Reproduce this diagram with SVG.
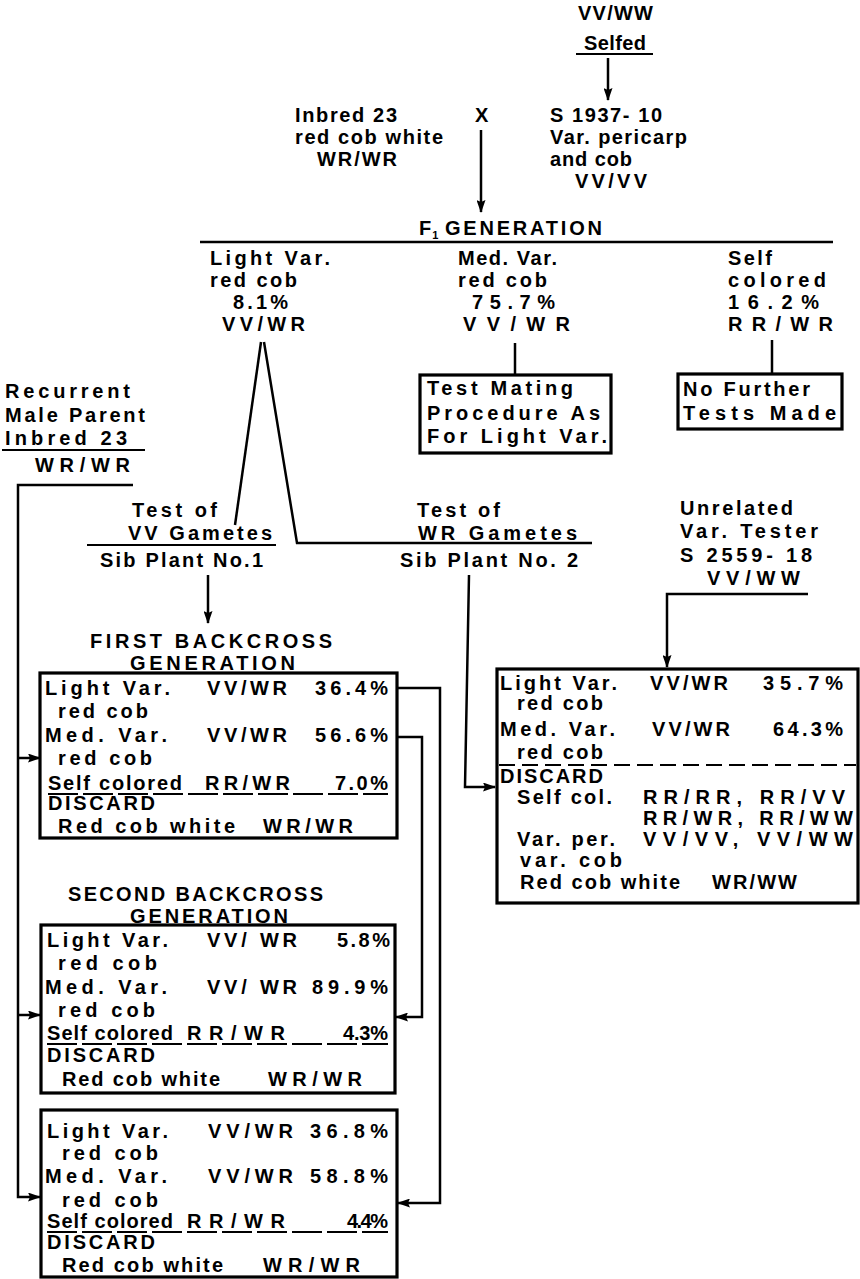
<svg xmlns="http://www.w3.org/2000/svg" width="860" height="1279" viewBox="0 0 860 1279">
<style>
text{font-family:"Liberation Sans",Arial,sans-serif;font-weight:bold;font-size:20px;fill:#000}
.sub{font-size:11px}
.ln{fill:none;stroke:#000;stroke-width:2.5}
.bx{fill:none;stroke:#000;stroke-width:3.2}
.ul{fill:none;stroke:#000;stroke-width:2}
.dash{fill:none;stroke:#000;stroke-width:2;stroke-dasharray:30 5}
.dash2{fill:none;stroke:#000;stroke-width:2;stroke-dasharray:16 7}
</style>
<defs>
<marker id="ah" markerUnits="userSpaceOnUse" markerWidth="13" markerHeight="9" refX="12" refY="4.5" orient="auto">
<path d="M0,0 L13,4.5 L0,9 L2,4.5 z" fill="#000"/>
</marker>
</defs>
<rect width="860" height="1279" fill="#fff"/>

<g id="connectors">
<line class="ln" x1="608" y1="58" x2="608" y2="100" marker-end="url(#ah)"/>
<line class="ln" x1="481" y1="130" x2="481" y2="212" marker-end="url(#ah)"/>
<line class="ln" x1="200" y1="242" x2="833" y2="242"/>
<line class="ln" x1="515" y1="343" x2="515" y2="375"/>
<line class="ln" x1="772" y1="340" x2="772" y2="373"/>
<polyline class="ln" points="261,342 235,525"/>
<polyline class="ln" points="264,342 297,543 592,543"/>
<line class="ln" x1="208" y1="575" x2="208" y2="623" marker-end="url(#ah)"/>
<polyline class="ln" points="469,575 465,787 495,787" marker-end="url(#ah)"/>
<polyline class="ln" points="808,594 667,594 667,667" marker-end="url(#ah)"/>
<polyline class="ln" points="133,485 18,485 18,1197 40,1197" marker-end="url(#ah)"/>
<line class="ln" x1="18" y1="758" x2="40" y2="758" marker-end="url(#ah)"/>
<line class="ln" x1="18" y1="1015" x2="40" y2="1015" marker-end="url(#ah)"/>
<polyline class="ln" points="397,688 440,688 440,1203 398,1203" marker-end="url(#ah)"/>
<polyline class="ln" points="397,737 422,737 422,1017 396,1017" marker-end="url(#ah)"/>
</g>

<g id="selfed">
<text x="578" y="20" textLength="75">VV/WW</text>
<text x="584" y="50" textLength="62">Selfed</text>
<line class="ul" x1="576" y1="54" x2="653" y2="54"/>
</g>

<g id="inbred23">
<text x="295" y="122" textLength="102">Inbred 23</text>
<text x="295" y="144" textLength="148">red cob white</text>
<text x="317" y="166" textLength="80">WR/WR</text>
</g>

<g id="cross">
<text x="475" y="122">X</text>
</g>

<g id="s1937">
<text x="550" y="122" textLength="112">S 1937- 10</text>
<text x="550" y="144" textLength="137">Var. pericarp</text>
<text x="550" y="166" textLength="82">and cob</text>
<text x="575" y="188" textLength="72">VV/VV</text>
</g>

<g id="f1">
<text x="419" y="235">F<tspan class="sub" dx="1" dy="4">1</tspan></text>
<text x="445" y="235" textLength="157">GENERATION</text>
</g>

<g id="lightvar">
<text x="210" y="265" textLength="120">Light Var.</text>
<text x="210" y="287" textLength="87">red cob</text>
<text x="233" y="309" textLength="55">8.1%</text>
<text x="222" y="331" textLength="83">VV/WR</text>
</g>

<g id="medvar">
<text x="458" y="265" textLength="99">Med. Var.</text>
<text x="458" y="287" textLength="89">red cob</text>
<text x="472" y="309" textLength="83">75.7%</text>
<text x="463" y="331" textLength="107">VV/WR</text>
</g>

<g id="selfcol">
<text x="728" y="265" textLength="44">Self</text>
<text x="728" y="287" textLength="98">colored</text>
<text x="728" y="309" textLength="91">16.2%</text>
<text x="728" y="331" textLength="105">RR/WR</text>
</g>

<g id="testmating">
<rect class="bx" x="420" y="375" width="191" height="78"/>
<text x="427" y="395" textLength="146">Test Mating</text>
<text x="427" y="420" textLength="173">Procedure As</text>
<text x="427" y="443" textLength="180">For Light Var.</text>
</g>

<g id="nofurther">
<rect class="bx" x="678" y="374" width="164" height="55"/>
<text x="683" y="396" textLength="127">No Further</text>
<text x="683" y="420" textLength="153">Tests Made</text>
</g>

<g id="recurrent">
<text x="5" y="398" textLength="125">Recurrent</text>
<text x="5" y="422" textLength="140">Male Parent</text>
<text x="5" y="445" textLength="122">Inbred 23</text>
<line class="ul" x1="2" y1="450" x2="145" y2="450"/>
<text x="35" y="472" textLength="95">WR/WR</text>
</g>

<g id="testvv">
<text x="132" y="517" textLength="85">Test of</text>
<text x="128" y="540" textLength="144">VV Gametes</text>
<line class="ul" x1="87" y1="545" x2="276" y2="545"/>
<text x="100" y="567" textLength="163">Sib Plant No.1</text>
</g>

<g id="testwr">
<text x="417" y="517" textLength="83">Test of</text>
<text x="418" y="540" textLength="159">WR Gametes</text>
<text x="400" y="567" textLength="178">Sib Plant No. 2</text>
</g>

<g id="unrelated">
<text x="680" y="515" textLength="113">Unrelated</text>
<text x="680" y="538" textLength="138">Var. Tester</text>
<text x="680" y="562" textLength="132">S 2559- 18</text>
<text x="707" y="585" textLength="93">VV/WW</text>
</g>

<g id="firstbc">
<text x="90" y="648" textLength="242">FIRST BACKCROSS</text>
<text x="130" y="670" textLength="165">GENERATION</text>
<rect class="bx" x="40" y="673" width="357" height="165"/>
<text x="45" y="695" textLength="125">Light Var.</text>
<text x="207" y="695" textLength="80">VV/WR</text>
<text x="315" y="695" textLength="73">36.4%</text>
<text x="58" y="718" textLength="90">red cob</text>
<text x="45" y="742" textLength="122">Med. Var.</text>
<text x="207" y="742" textLength="80">VV/WR</text>
<text x="315" y="742" textLength="73">56.6%</text>
<text x="58" y="765" textLength="94">red cob</text>
<text x="48" y="790" textLength="134">Self colored</text>
<text x="205" y="790" textLength="85">RR/WR</text>
<text x="335" y="790" textLength="53">7.0%</text>
<line class="dash" x1="48" y1="794" x2="388" y2="794"/>
<text x="48" y="810" textLength="107">DISCARD</text>
<text x="58" y="833" textLength="177">Red cob white</text>
<text x="263" y="833" textLength="90">WR/WR</text>
</g>

<g id="secondbc">
<text x="68" y="901" textLength="255">SECOND BACKCROSS</text>
<text x="130" y="923" textLength="158">GENERATION</text>
<rect class="bx" x="41" y="925" width="354" height="168"/>
<text x="47" y="947" textLength="121">Light Var.</text>
<text x="207" y="947" textLength="90">VV/ WR</text>
<text x="337" y="947" textLength="53">5.8%</text>
<text x="58" y="970" textLength="99">red cob</text>
<text x="45" y="994" textLength="122">Med. Var.</text>
<text x="207" y="994" textLength="90">VV/ WR</text>
<text x="312" y="994" textLength="76">89.9%</text>
<text x="58" y="1017" textLength="97">red cob</text>
<text x="47" y="1040" textLength="126">Self colored</text>
<text x="187" y="1040" textLength="98">RR/WR</text>
<text x="343" y="1040" textLength="45">4.3%</text>
<line class="dash" x1="47" y1="1044" x2="388" y2="1044"/>
<text x="47" y="1062" textLength="108">DISCARD</text>
<text x="62" y="1086" textLength="158">Red cob white</text>
<text x="268" y="1086" textLength="94">WR/WR</text>
</g>

<g id="thirdbc">
<rect class="bx" x="41" y="1110" width="356" height="167"/>
<text x="47" y="1138" textLength="121">Light Var.</text>
<text x="208" y="1138" textLength="85">VV/WR</text>
<text x="310" y="1138" textLength="78">36.8%</text>
<text x="62" y="1160" textLength="96">red cob</text>
<text x="45" y="1183" textLength="122">Med. Var.</text>
<text x="208" y="1183" textLength="85">VV/WR</text>
<text x="310" y="1183" textLength="78">58.8%</text>
<text x="62" y="1207" textLength="96">red cob</text>
<text x="47" y="1228" textLength="126">Self colored</text>
<text x="187" y="1228" textLength="98">RR/WR</text>
<text x="347" y="1228" textLength="41">4.4%</text>
<line class="dash" x1="47" y1="1232" x2="388" y2="1232"/>
<text x="47" y="1249" textLength="108">DISCARD</text>
<text x="62" y="1272" textLength="161">Red cob white</text>
<text x="263" y="1272" textLength="97">WR/WR</text>
</g>

<g id="testerbox">
<rect class="bx" x="497" y="669" width="361" height="234"/>
<text x="500" y="690" textLength="117">Light Var.</text>
<text x="650" y="690" textLength="78">VV/WR</text>
<text x="763" y="690" textLength="80">35.7%</text>
<text x="517" y="710" textLength="86">red cob</text>
<text x="500" y="736" textLength="115">Med. Var.</text>
<text x="652" y="736" textLength="78">VV/WR</text>
<text x="773" y="736" textLength="70">64.3%</text>
<text x="517" y="759" textLength="86">red cob</text>
<line class="dash2" x1="499" y1="765" x2="856" y2="765"/>
<text x="500" y="783" textLength="103">DISCARD</text>
<text x="517" y="804" textLength="95">Self col.</text>
<text x="643" y="804" textLength="202">RR/RR, RR/VV</text>
<text x="643" y="825" textLength="210">RR/WR, RR/WW</text>
<text x="517" y="846" textLength="98">Var. per.</text>
<text x="643" y="846" textLength="210">VV/VV, VV/WW</text>
<text x="520" y="867" textLength="102">var. cob</text>
<text x="520" y="889" textLength="160">Red cob white</text>
<text x="712" y="889" textLength="85">WR/WW</text>
</g>
</svg>
